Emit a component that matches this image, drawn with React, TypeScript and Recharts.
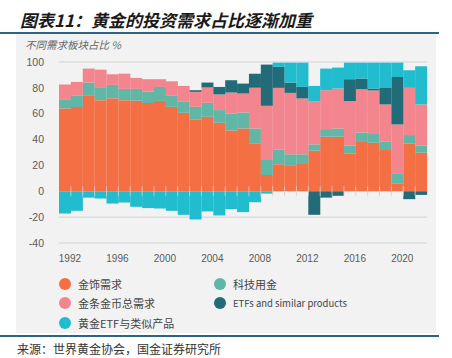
import React from 'react';
import { BarChart, Bar, XAxis, YAxis, CartesianGrid, ReferenceLine } from 'recharts';

const years = ['1992', '1993', '1994', '1995', '1996', '1997', '1998', '1999', '2000', '2001', '2002', '2003', '2004', '2005', '2006', '2007', '2008', '2009', '2010', '2011', '2012', '2013', '2014', '2015', '2016', '2017', '2018', '2019', '2020', '2021', '2022'];

// 各板块占比 (%)
const jewelry = [64.1, 65.1, 73.8, 70.5, 72.0, 70.5, 70.2, 68.2, 69.9, 65.3, 60.7, 55.3, 57.6, 53.0, 47.1, 48.6, 37.1, 12.6, 20.9, 19.6, 21.1, 31.4, 42.2, 42.2, 29.0, 38.8, 37.5, 31.9, 6.2, 37.1, 29.8];
const technology = [7.1, 8.7, 10.3, 10.0, 10.3, 8.7, 9.0, 9.0, 10.8, 8.5, 8.5, 10.0, 10.8, 9.8, 13.1, 12.4, 11.5, 11.6, 11.5, 9.0, 7.5, 4.9, 5.9, 6.4, 6.3, 6.7, 6.8, 6.4, 7.2, 6.4, 5.5];
const barCoin = [11.4, 10.8, 10.8, 13.6, 8.2, 11.8, 8.5, 9.5, 6.0, 11.3, 12.3, 11.6, 11.9, 12.1, 16.2, 14.6, 31.4, 41.9, 47.6, 47.5, 43.2, 33.4, 30.1, 30.9, 34.4, 33.4, 33.7, 28.9, 38.3, 36.5, 31.9];
const etfs = [0, 0, 0, 0, 0, 0, 0, 0, 0, 0, 0, 1.3, 3.8, 5.8, 9.5, 7.7, 11.0, 31.9, 16.2, 8.0, 8.9, -18.2, -4.9, -3.5, 17.0, 8.3, 1.5, 12.7, 36.7, -6.1, -2.8];
const goldEtf = [-17.2, -15.1, -4.9, -5.6, -9.5, -8.7, -12.0, -13.0, -13.3, -15.1, -18.2, -21.8, -15.6, -18.7, -13.8, -16.1, -8.4, -1.8, 3.3, 15.4, 18.8, 11.8, 16.7, 16.2, 12.8, 12.3, 20.0, 19.6, 11.1, 13.6, 29.5];

const yTicks = [-40, -20, 0, 20, 40, 60, 80, 100];

const series = [
  { key: 'jewelry', name: '金饰需求', color: '#f46f43' },
  { key: 'technology', name: '科技用金', color: '#62b6a6' },
  { key: 'barCoin', name: '金条金币总需求', color: '#f3858f' },
  { key: 'etfs', name: 'ETFs and similar products', color: '#226b78' },
  { key: 'goldEtf', name: '黄金ETF与类似产品', color: '#21bdce' },
];

const data = years.map((year, i) => ({
  year,
  jewelry: jewelry[i],
  technology: technology[i],
  barCoin: barCoin[i],
  etfs: etfs[i],
  goldEtf: goldEtf[i],
}));

// small tick marks on the zero line, one at each bar boundary
const ZeroTicks = (props: any) => {
  const { x1, x2, y1 } = props;
  if (x1 == null || x2 == null || y1 == null) return null;
  const step = (x2 - x1) / years.length;
  return (
    <g>
      {years.slice(1).map((y, i) => (
        <line
          key={y}
          x1={x1 + (i + 1) * step}
          x2={x1 + (i + 1) * step}
          y1={y1 - 5}
          y2={y1 + 5}
          stroke="#cfcfcf"
          strokeOpacity={0.8}
        />
      ))}
    </g>
  );
};

const legendCols = [
  [series[0], series[2], series[4]],
  [series[1], series[3]],
];

const App: React.FC = () => {
  return (
    <div style={{ position: 'absolute', left: 0, top: 0, width: 452, height: 358, background: '#fff', fontFamily: '"Noto Sans CJK SC", "Liberation Sans", sans-serif', overflow: 'hidden' }}>
      <div style={{ position: 'absolute', left: 20, top: 9, fontSize: 17, fontWeight: 700, fontStyle: 'italic', color: '#1a1a1a', lineHeight: '22px', whiteSpace: 'nowrap' }}>
        图表11：黄金的投资需求占比逐渐加重
      </div>
      <div style={{ position: 'absolute', left: 0, top: 32, width: 439, height: 2, background: '#2f6386' }} />
      <div style={{ position: 'absolute', left: 16, top: 34, width: 420, height: 299, background: '#f2f2f2' }} />
      <div style={{ position: 'absolute', left: 25, top: 38, fontSize: 10.5, fontStyle: 'italic', color: '#666', lineHeight: '14px', whiteSpace: 'nowrap' }}>
        不同需求板块占比 %
      </div>

      <div style={{ position: 'absolute', left: 0, top: 0 }}>
        <BarChart
          width={452}
          height={270}
          data={data}
          margin={{ top: 62, right: 25, left: 19, bottom: 7 }}
          barCategoryGap={0}
          stackOffset="sign"
        >
          <CartesianGrid vertical={false} horizontalValues={[100, -20, -40]} stroke="#d2d2d2" />
          <XAxis
            dataKey="year"
            interval={3}
            height={20}
            axisLine={false}
            tickLine={false}
            tickMargin={6}
            tick={{ fontSize: 10, fill: '#5a5a5a', fontFamily: '"Liberation Sans", sans-serif', dx: 5 }}
          />
          <YAxis
            width={40}
            domain={[-40, 100]}
            ticks={yTicks}
            axisLine={false}
            tickLine={false}
            tickMargin={9}
            tick={{ fontSize: 10.5, fill: '#5a5a5a', fontFamily: '"Liberation Sans", sans-serif' }}
          />
          {series.map((s) => (
            <Bar key={s.key} dataKey={s.key} name={s.name} stackId="a" fill={s.color} isAnimationActive={false} />
          ))}
          <ReferenceLine y={0} stroke="none" shape={<ZeroTicks />} />
        </BarChart>
      </div>

      {legendCols.map((col, ci) => (
        <div key={ci} style={{ position: 'absolute', left: ci === 0 ? 59 : 214, top: 274 }}>
          {col.map((s) => (
            <div key={s.key} style={{ display: 'flex', alignItems: 'center', height: 19.5 }}>
              <span style={{ width: 12, height: 12, borderRadius: 6, background: s.color, display: 'inline-block', marginRight: 7 }} />
              <span style={{ fontSize: s.key === 'etfs' ? 9.5 : 11, color: '#444', whiteSpace: 'nowrap' }}>{s.name}</span>
            </div>
          ))}
        </div>
      ))}

      <div style={{ position: 'absolute', left: 0, top: 335, width: 439, height: 2, background: '#2f6386' }} />
      <div style={{ position: 'absolute', left: 17, top: 340, fontSize: 12, color: '#333', lineHeight: '18px', whiteSpace: 'nowrap' }}>
        来源：世界黄金协会，国金证券研究所
      </div>
    </div>
  );
};

export default App;
